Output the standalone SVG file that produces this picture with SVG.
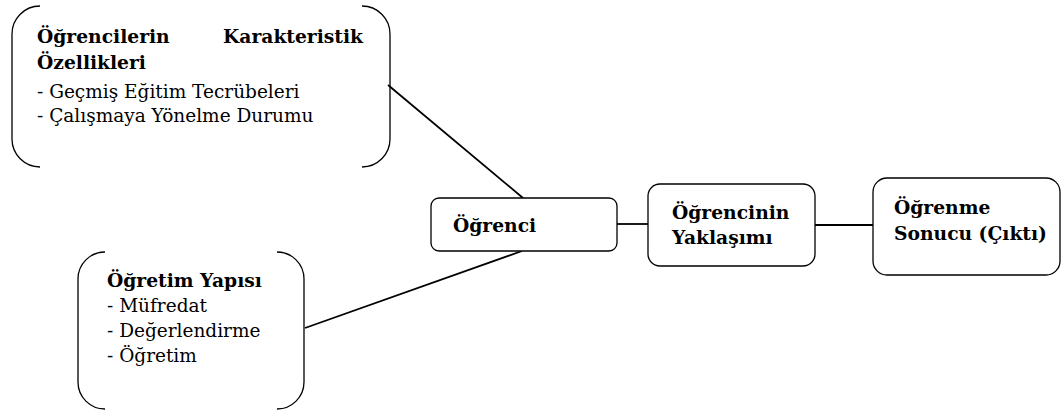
<svg xmlns="http://www.w3.org/2000/svg" width="1062" height="416" viewBox="0 0 1062 416">
<style>
.box{fill:#fff;stroke:#000;stroke-width:1.3}
.br{fill:none;stroke:#000;stroke-width:1.3}
.ln{fill:none;stroke:#000;stroke-width:1.8}
.t{font-family:'DejaVu Serif',serif;font-size:18.5px;fill:#000}
.b{font-weight:bold;font-size:18.7px}
</style>
<rect width="1062" height="416" fill="#fff"/>
<g id="connectors">
<line class="ln" x1="388" y1="85" x2="523" y2="198"/>
<line class="ln" x1="522" y1="251" x2="305" y2="328"/>
<line class="ln" x1="617" y1="224" x2="648" y2="224"/>
<line class="ln" x1="815" y1="225" x2="873" y2="225"/>
</g>
<g id="node-ozellikler">
<path class="br" d="M40,6 A28,28 0 0 0 12,34 V139 A28,28 0 0 0 40,167"/>
<path class="br" d="M362,6 A28,28 0 0 1 390,34 V139 A28,28 0 0 1 362,167"/>
<text class="t b" x="37" y="43">Öğrencilerin</text>
<text class="t b" x="363" y="43" text-anchor="end">Karakteristik</text>
<text class="t b" x="37" y="69">Özellikleri</text>
<text class="t" x="37" y="98">- Geçmiş Eğitim Tecrübeleri</text>
<text class="t" x="37" y="122">- Çalışmaya Yönelme Durumu</text>
</g>
<g id="node-ogretim">
<path class="br" d="M105,252 A27,27 0 0 0 78,279 V382 A27,27 0 0 0 105,409"/>
<path class="br" d="M277,252 A27,27 0 0 1 304,279 V382 A27,27 0 0 1 277,409"/>
<text class="t b" x="107" y="287">Öğretim Yapısı</text>
<text class="t" x="107" y="312">- Müfredat</text>
<text class="t" x="107" y="337">- Değerlendirme</text>
<text class="t" x="107" y="362">- Öğretim</text>
</g>
<g id="node-ogrenci">
<rect class="box" x="431" y="198" width="186" height="53" rx="8"/>
<text class="t b" x="453" y="232">Öğrenci</text>
</g>
<g id="node-yaklasim">
<rect class="box" x="648" y="184" width="167" height="82" rx="12"/>
<text class="t b" x="672" y="219">Öğrencinin</text>
<text class="t b" x="672" y="244">Yaklaşımı</text>
</g>
<g id="node-sonuc">
<rect class="box" x="873" y="178" width="187" height="97" rx="14"/>
<text class="t b" x="894" y="214">Öğrenme</text>
<text class="t b" x="894" y="240">Sonucu (Çıktı)</text>
</g>
</svg>
